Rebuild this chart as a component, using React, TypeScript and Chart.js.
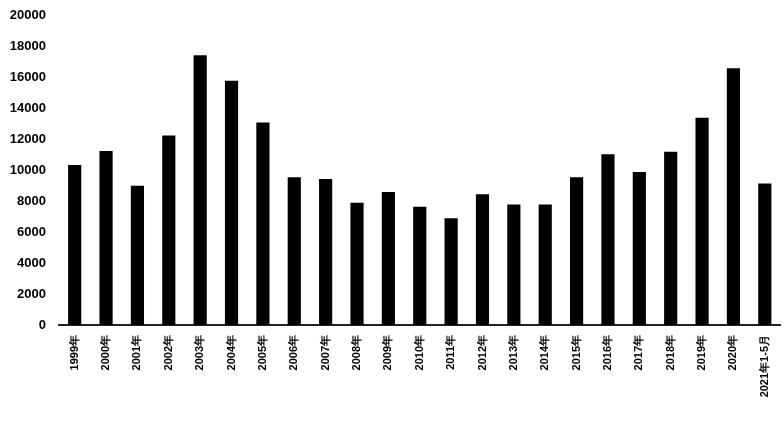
import React, { useEffect, useRef } from "react";
import { Chart, registerables } from "chart.js";

Chart.register(...registerables);

const categories = [
  "1999年", "2000年", "2001年", "2002年", "2003年", "2004年", "2005年", "2006年",
  "2007年", "2008年", "2009年", "2010年", "2011年", "2012年", "2013年", "2014年",
  "2015年", "2016年", "2017年", "2018年", "2019年", "2020年", "2021年1-5月",
];

const values = [
  10350, 11250, 9000, 12250, 17450, 15800, 13100, 9550,
  9450, 7900, 8600, 7650, 6900, 8450, 7800, 7800,
  9550, 11050, 9900, 11200, 13400, 16600, 9150,
];

const yMin = 0;
const yMax = 20000;
const yStep = 2000;

export default function App() {
  const ref = useRef<HTMLCanvasElement | null>(null);

  useEffect(() => {
    if (!ref.current) return;
    const chart = new Chart(ref.current, {
      type: "bar",
      data: {
        labels: categories,
        datasets: [
          {
            data: values,
            backgroundColor: "#000000",
            borderWidth: 0,
            categoryPercentage: 1,
            barPercentage: 0.42,
          },
        ],
      },
      options: {
        animation: false,
        responsive: true,
        maintainAspectRatio: false,
        layout: { padding: { top: 8, right: 0, bottom: 0, left: 0 } },
        plugins: {
          legend: { display: false },
          tooltip: { enabled: false },
        },
        scales: {
          x: {
            grid: { display: false, drawTicks: false },
            border: { display: true, color: "#222222", width: 2 },
            ticks: {
              color: "#000000",
              maxRotation: 90,
              minRotation: 90,
              autoSkip: false,
              padding: 10,
              font: { family: "'Liberation Sans', Arial, sans-serif", size: 11, weight: "bold" },
            },
            afterFit: (scale: any) => {
              scale.height = 103;
            },
          },
          y: {
            min: yMin,
            max: yMax,
            grid: { display: false, drawTicks: false },
            border: { display: false },
            ticks: {
              stepSize: yStep,
              color: "#000000",
              padding: 13,
              callback: (v: any) => String(v),
              font: { family: "'Liberation Sans', Arial, sans-serif", size: 13, weight: "bold" },
            },
            afterFit: (scale: any) => {
              scale.width = 59;
            },
          },
        },
      },
    });
    return () => chart.destroy();
  }, []);

  return (
    <div style={{ position: "fixed", left: 0, top: -5, width: 788, height: 433, background: "#fff" }}>
      <canvas ref={ref} />
    </div>
  );
}
